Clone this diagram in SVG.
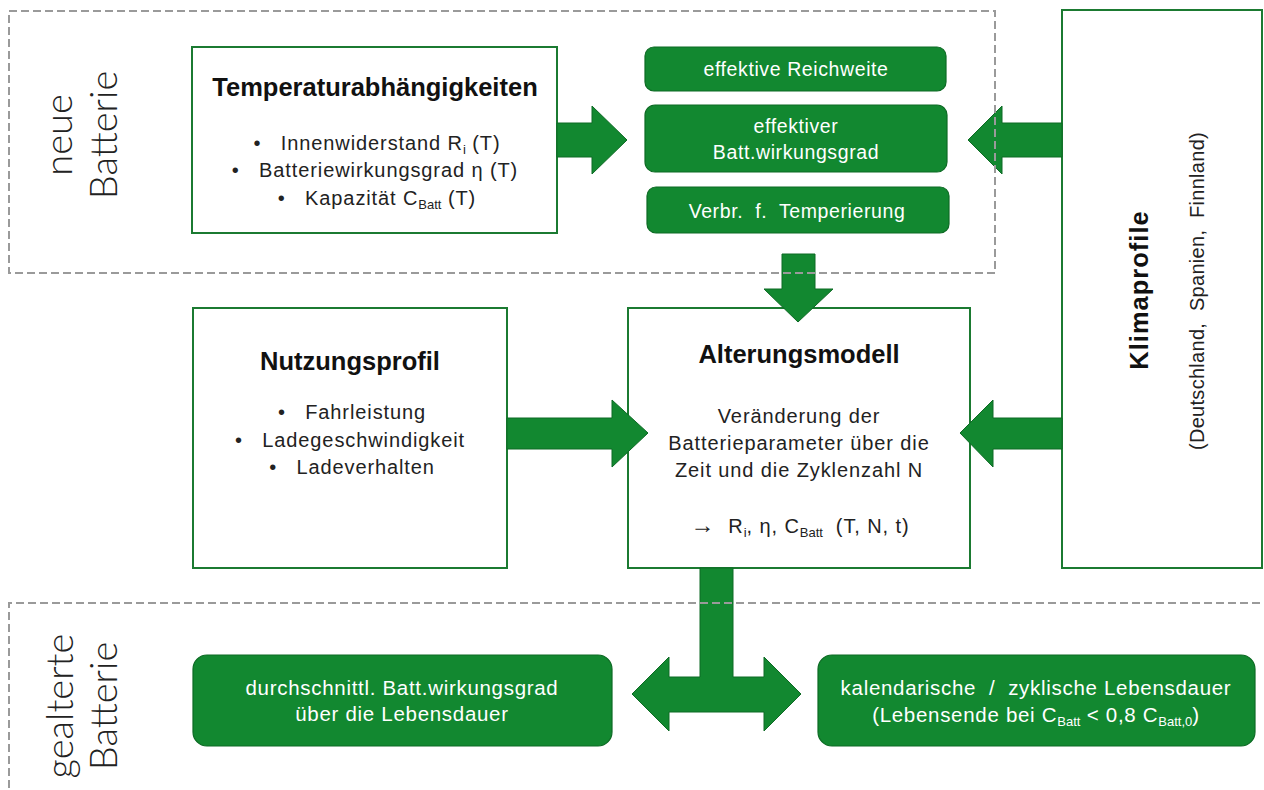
<svg xmlns="http://www.w3.org/2000/svg" width="1264" height="790" viewBox="0 0 1264 790">
  <style>
    .box { fill: #ffffff; stroke: #1b7a31; stroke-width: 2; }
    .gbox { fill: #128830; stroke: #0d6a24; stroke-width: 1.2; }
    .arrow { fill: #128830; stroke: #0d6a24; stroke-width: 1; }
    .zone { fill: none; stroke: #9a9a9a; stroke-width: 2; stroke-dasharray: 8 4; }
    .title { font-family: "Liberation Sans", Arial, sans-serif; font-weight: bold; font-size: 25.5px; fill: #111; text-anchor: middle; }
    .body { font-family: "Liberation Sans", Arial, sans-serif; font-size: 20px; letter-spacing: 0.9px; fill: #222; text-anchor: middle; }
    .wtext { font-family: "Liberation Sans", Arial, sans-serif; font-size: 19.5px; letter-spacing: 0.6px; fill: #ffffff; text-anchor: middle; }
    .wtext2 { font-family: "Liberation Sans", Arial, sans-serif; font-size: 20.5px; letter-spacing: 0.7px; fill: #ffffff; text-anchor: middle; }
    .side { font-family: Lato, "Open Sans", "Liberation Sans", sans-serif; font-weight: 300; font-size: 38px; fill: #222; text-anchor: middle; }
    .sub { font-size: 13px; letter-spacing: 0; }
  </style>

  <rect width="1264" height="790" fill="#ffffff"/>

  <!-- side labels -->
  <g id="label-neu">
    <text class="side" transform="translate(72,135) rotate(-90)">neue</text>
    <text class="side" transform="translate(117,135) rotate(-90)">Batterie</text>
  </g>
  <g id="label-alt">
    <text class="side" transform="translate(73,706) rotate(-90)">gealterte</text>
    <text class="side" transform="translate(117,706) rotate(-90)">Batterie</text>
  </g>

  <!-- Temperaturabhängigkeiten -->
  <g id="temperatur">
    <rect class="box" x="192" y="47" width="365" height="186"/>
    <text class="title" x="375" y="96">Temperaturabhängigkeiten</text>
    <text class="body" x="377" y="150">•&#160;&#160; Innenwiderstand R<tspan class="sub" dy="4">i</tspan><tspan dy="-4"> (T)</tspan></text>
    <text class="body" x="375" y="177">•&#160;&#160; Batteriewirkungsgrad η (T)</text>
    <text class="body" x="377" y="205">•&#160;&#160; Kapazität C<tspan class="sub" dy="4">Batt</tspan><tspan dy="-4"> (T)</tspan></text>
  </g>

  <!-- effective values -->
  <g id="reichweite">
    <rect class="gbox" x="645" y="47" width="301" height="44" rx="9"/>
    <text class="wtext" x="796" y="76">effektive Reichweite</text>
  </g>
  <g id="wirkungsgrad">
    <rect class="gbox" x="645" y="105" width="302" height="67" rx="10"/>
    <text class="wtext" x="796" y="133">effektiver</text>
    <text class="wtext" x="796" y="159">Batt.wirkungsgrad</text>
  </g>
  <g id="temperierung">
    <rect class="gbox" x="647" y="187" width="302" height="46" rx="9"/>
    <text class="wtext" x="797" y="218">Verbr.&#160; f.&#160; Temperierung</text>
  </g>

  <!-- Klimaprofile -->
  <g id="klima">
    <rect class="box" x="1062" y="10" width="200" height="558"/>
    <text class="title" style="letter-spacing:1px" transform="translate(1148,290) rotate(-90)">Klimaprofile</text>
    <text class="body" style="letter-spacing:0.3px" transform="translate(1204,291) rotate(-90)">(Deutschland,&#160; Spanien,&#160; Finnland)</text>
  </g>

  <!-- Nutzungsprofil -->
  <g id="nutzung">
    <rect class="box" x="193" y="308" width="314" height="260"/>
    <text class="title" x="350" y="370">Nutzungsprofil</text>
    <text class="body" x="352" y="419">•&#160;&#160; Fahrleistung</text>
    <text class="body" x="350" y="447">•&#160;&#160; Ladegeschwindigkeit</text>
    <text class="body" x="352" y="474">•&#160;&#160; Ladeverhalten</text>
  </g>

  <!-- Alterungsmodell -->
  <g id="alterung">
    <rect class="box" x="628" y="308" width="342" height="260"/>
    <text class="title" x="799" y="363">Alterungsmodell</text>
    <text class="body" x="799" y="423">Veränderung der</text>
    <text class="body" x="799" y="450">Batterieparameter über die</text>
    <text class="body" x="799" y="477">Zeit und die Zyklenzahl N</text>
    <text class="body" x="800" y="533"><tspan style="font-size:24px">→</tspan>&#160; R<tspan class="sub" dy="4">i</tspan><tspan dy="-4">, η, C</tspan><tspan class="sub" dy="4">Batt</tspan><tspan dy="-4">&#160; (T, N, t)</tspan></text>
  </g>

  <!-- aged battery results -->
  <g id="mittel-wirkungsgrad">
    <rect class="gbox" x="193" y="655" width="419" height="91" rx="14"/>
    <text class="wtext2" x="402" y="695">durchschnittl. Batt.wirkungsgrad</text>
    <text class="wtext2" x="402" y="721">über die Lebensdauer</text>
  </g>
  <g id="lebensdauer">
    <rect class="gbox" x="818" y="655" width="437" height="91" rx="14"/>
    <text class="wtext2" x="1036" y="695">kalendarische&#160; /&#160; zyklische Lebensdauer</text>
    <text class="wtext2" x="1036" y="722">(Lebensende bei C<tspan class="sub" dy="4">Batt</tspan><tspan dy="-4"> &lt; 0,8 C</tspan><tspan class="sub" dy="4">Batt,0</tspan><tspan dy="-4">)</tspan></text>
  </g>

  <!-- block arrows -->
  <g id="connectors">
    <path class="arrow" d="M557,123 H592 V106 L627,140 L592,174 V157 H557 Z"/>
    <path class="arrow" d="M1062,123 H1002 V106 L968,140 L1002,174 V157 H1062 Z"/>
    <path class="arrow" d="M782,254 H815 V289 H833 L798,322 L764,289 H782 Z"/>
    <path class="arrow" d="M507,418 H612 V400 L648,433 L612,467 V449 H507 Z"/>
    <path class="arrow" d="M1062,418 H993 V400 L960,433 L993,467 V449 H1062 Z"/>
    <path class="arrow" d="M700,568 H733 V677 H764 V657 L801,694 L764,731 V712 H669 V731 L632,694 L669,657 V677 H700 Z"/>
  </g>

  <!-- dashed zones -->
  <g id="zones">
    <rect class="zone" x="9" y="11" width="986" height="262"/>
    <path class="zone" d="M9,800 V603 H1270"/>
  </g>
</svg>
